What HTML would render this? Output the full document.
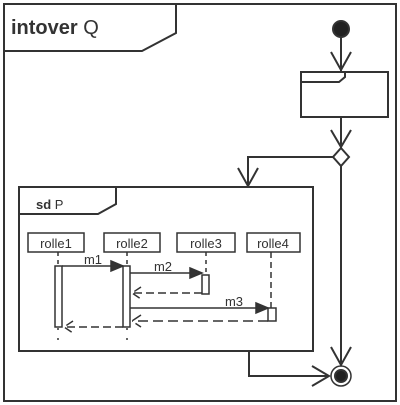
<!DOCTYPE html><html><head><style>body{margin:0;background:#fff}svg{display:block}text{font-family:"Liberation Sans",sans-serif;fill:#333}</style></head><body>
<svg width="400" height="405" viewBox="0 0 400 405" xmlns="http://www.w3.org/2000/svg">
<g fill="none" stroke="#333" stroke-width="2">
<rect x="4" y="4" width="392" height="397"/>
<path d="M4 51 H142 L176 33 V4"/>
<circle cx="341" cy="29" r="8" fill="#222"/>
<path d="M341 37 V71 M331 52 L341 70 L351 52"/>
<rect x="301" y="72" width="87" height="45"/>
<path d="M301 82 H339 L345 77 V72"/>
<path d="M341 117 V148 M331 130 L341 147 L351 130"/>
<path d="M341 148 L349 157 L341 166 L333 157 Z"/>
<path d="M333 157 H248 V186 M238 168 L248 186 L258 168"/>
<path d="M341 166 V365 M331 347 L341 365 L351 347"/>
<circle cx="341" cy="376" r="10" stroke-width="1.5"/>
<circle cx="341" cy="376" r="6" fill="#222"/>
<path d="M249 351 V376 H329 M312 366 L329 376 L312 386"/>
<rect x="19" y="187" width="294" height="164"/>
<path d="M19 214 H98 L116 204 V187"/>
<g stroke-width="1.5">
<rect x="28" y="233" width="56" height="19"/>
<rect x="104" y="233" width="56" height="19"/>
<rect x="177" y="233" width="58" height="19"/>
<rect x="247" y="233" width="53" height="19"/>
<path d="M58 252 V266 M127 252 V266 M206 252 V275" stroke-dasharray="4 4"/>
<path d="M271 252 V308" stroke-dasharray="6 4"/>
<path d="M58 328 V345 M127 328 V345" stroke-dasharray="2 8"/>
<rect x="55" y="266" width="7" height="61"/>
<rect x="123" y="266" width="7" height="61"/>
<rect x="202" y="275" width="7" height="19"/>
<rect x="268" y="308" width="8" height="13"/>
<path d="M62 266 H112"/><path d="M111 261 L123 266 L111 271 Z" fill="#333"/>
<path d="M130 273 H192"/><path d="M190 268 L202 273 L190 278 Z" fill="#333"/>
<path d="M130 308 H258"/><path d="M256 303 L268 308 L256 313 Z" fill="#333"/>
<path d="M202 293 H132 M141 287 L132 293 L141 299" stroke-dasharray="8 4"/>
<path d="M268 321 H132 M141 315 L132 321 L141 327" stroke-dasharray="10 5"/>
<path d="M123 327 H64 M73 321 L64 327 L73 333" stroke-dasharray="8 4"/>
</g></g>
<text x="11" y="34" font-size="20"><tspan font-weight="bold">intover</tspan> Q</text>
<text x="36" y="209" font-size="13"><tspan font-weight="bold">sd</tspan> P</text>
<g font-size="13" text-anchor="middle">
<text x="56" y="248">rolle1</text><text x="132" y="248">rolle2</text><text x="206" y="248">rolle3</text><text x="273" y="248">rolle4</text>
<text x="93" y="264">m1</text><text x="163" y="271">m2</text><text x="234" y="306">m3</text>
</g>
</svg></body></html>
